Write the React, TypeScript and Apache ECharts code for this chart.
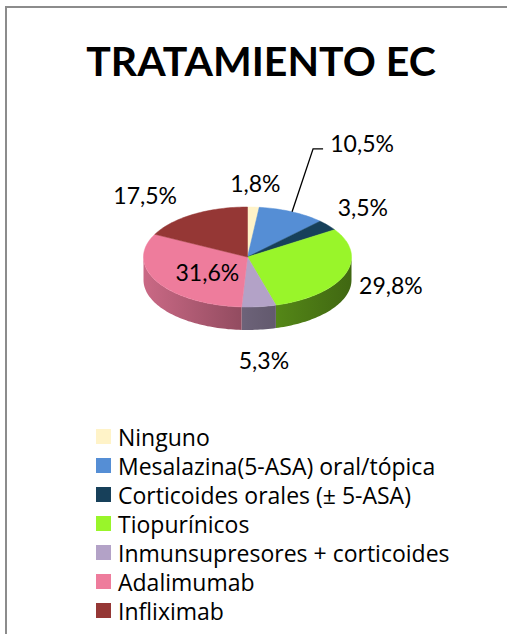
import React, { useEffect, useRef } from 'react';
import * as echarts from 'echarts';

const title = 'TRATAMIENTO EC';
const categories = [
  'Ninguno',
  'Mesalazina(5-ASA) oral/tópica',
  'Corticoides orales (± 5-ASA)',
  'Tiopurínicos',
  'Inmunsupresores + corticoides',
  'Adalimumab',
  'Infliximab',
];
const values = [1.8, 10.5, 3.5, 29.8, 5.3, 31.6, 17.5];
const colors = ['#FFF3C8', '#558ED5', '#17405A', '#99F52A', '#B3A2C7', '#EE7C9C', '#953735'];

// label placement (style), offset from the slice's rim anchor
const labelOffsets = [[2, -24], [70, -69], [35, -18], [46, 10], [5, 53], [50, -10], [-48, -19]];
const leaderLines = [false, true, false, false, false, false, false];

const PIE = { cx: 247.5, cy: 257, rx: 104, ry: 50, depth: 23 };
const FONT = 'Lato, "Open Sans", sans-serif';
const LEGEND_FONT = '"Open Sans", Lato, sans-serif';

function shade(hex: string, f: number) {
  const n = parseInt(hex.slice(1), 16);
  const r = Math.round(((n >> 16) & 255) * f);
  const g = Math.round(((n >> 8) & 255) * f);
  const b = Math.round((n & 255) * f);
  return `rgb(${r},${g},${b})`;
}

function fmt(v: number) {
  return v.toFixed(1).replace('.', ',') + '%';
}

export default function App() {
  const ref = useRef<HTMLDivElement>(null);
  useEffect(() => {
    if (!ref.current) return;
    const chart = echarts.init(ref.current, null, { renderer: 'svg' });
    const total = values.reduce((a, b) => a + b, 0);
    const { cx, cy, rx, ry, depth } = PIE;
    const pt = (a: number, dy = 0) => [cx + rx * Math.cos(a), cy + ry * Math.sin(a) + dy];
    const arc = (s: number, e: number, dy: number) => {
      const n = Math.max(2, Math.ceil((e - s) / (Math.PI / 120)));
      const pts: number[][] = [];
      for (let k = 0; k <= n; k++) pts.push(pt(s + ((e - s) * k) / n, dy));
      return pts;
    };

    const renderItem = (params: any, api: any) => {
      const i = params.dataIndex;
      let before = 0;
      for (let k = 0; k < i; k++) before += values[k];
      const v = api.value(1);
      const a1 = -Math.PI / 2 + (before / total) * Math.PI * 2;
      const a2 = a1 + (v / total) * Math.PI * 2;
      const color = colors[i];
      const children: any[] = [];
      children.push({
        type: 'polygon',
        z2: 5,
        shape: { points: [[cx, cy], ...arc(a1, a2, 0)] },
        style: { fill: color, stroke: color, lineWidth: 0.5 },
      });
      const s = Math.max(a1, 0);
      const e = Math.min(a2, Math.PI);
      if (e > s) {
        children.push({
          type: 'polygon',
          z2: 1,
          shape: { points: [...arc(s, e, 0), ...arc(s, e, depth).reverse()] },
          style: {
            fill: new echarts.graphic.LinearGradient(
              cx - rx, 0, cx + rx, 0,
              [
                { offset: 0, color: shade(color, 0.85) },
                { offset: 0.5, color: shade(color, 0.6) },
                { offset: 1, color: shade(color, 0.42) },
              ],
              true
            ),
          },
        });
      }
      const mid = (a1 + a2) / 2;
      const anchor = pt(mid);
      const lx = anchor[0] + labelOffsets[i][0];
      const ly = anchor[1] + labelOffsets[i][1];
      if (leaderLines[i]) {
        children.push({
          type: 'polyline',
          z2: 9,
          shape: { points: [anchor, [lx - 49, ly + 6], [lx - 39, ly + 6]] },
          style: { stroke: '#000', lineWidth: 1.3, fill: null },
        });
      }
      children.push({
        type: 'text',
        z2: 10,
        x: lx,
        y: ly,
        style: {
          text: fmt(v),
          fill: '#000',
          fontSize: 23,
          fontFamily: FONT,
          align: 'center',
          verticalAlign: 'middle',
        },
      });
      return { type: 'group', children };
    };

    chart.setOption({
      animation: false,
      backgroundColor: '#fff',
      title: {
        text: title,
        left: 256,
        top: 35,
        textAlign: 'center',
        textStyle: { fontSize: 41, fontWeight: 'bold', fontFamily: FONT, color: '#000' },
      },
      legend: {
        orient: 'vertical',
        left: 96,
        top: 425,
        padding: 0,
        itemWidth: 15,
        itemHeight: 15,
        itemGap: 6,
        icon: 'rect',
        selectedMode: false,
        data: categories,
        textStyle: { fontSize: 23, lineHeight: 22, fontFamily: LEGEND_FONT, color: '#000', padding: [0, 0, 0, 2] },
      },
      graphic: [
        {
          type: 'rect',
          shape: { x: 6, y: 7, width: 620, height: 700 },
          style: { fill: null, stroke: '#8c8c8c', lineWidth: 2 },
          silent: true,
        },
      ],
      series: [
        {
          type: 'pie',
          radius: [0, 0],
          center: [cx, cy],
          silent: true,
          label: { show: false },
          labelLine: { show: false },
          color: colors,
          data: categories.map((name, i) => ({ name, value: values[i] })),
        },
        {
          type: 'custom',
          coordinateSystem: 'none',
          silent: true,
          renderItem,
          data: values.map((v, i) => [i, v]),
        },
      ],
    });
    return () => chart.dispose();
  }, []);
  return <div ref={ref} style={{ position: 'fixed', left: 0, top: 0, width: 507, height: 634 }} />;
}
